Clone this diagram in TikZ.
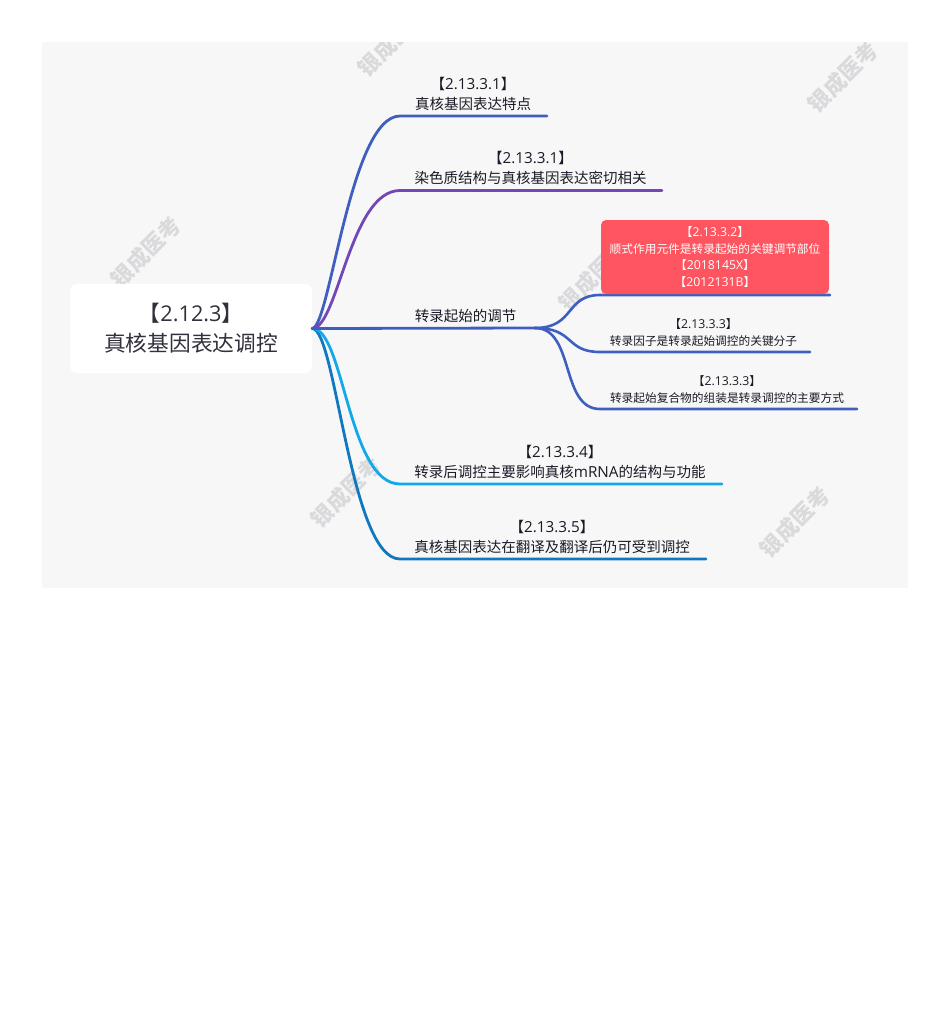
\documentclass[tikz,border=0pt]{standalone}
\usepackage{fontspec}
\setmainfont{Noto Sans CJK SC}
\newfontfamily\latf[Scale=1.05]{Open Sans}
\newfontfamily\latr{Open Sans}
\newcommand{\rtag}[1]{【{\latf #1}】}
\definecolor{panelc}{HTML}{F7F7F8}
\definecolor{blueb}{HTML}{3F5FBE}
\definecolor{purpleb}{HTML}{7248B9}
\definecolor{cyanb}{HTML}{13A9E8}
\definecolor{deepb}{HTML}{0F78BE}
\definecolor{redbox}{HTML}{FF5560}
\definecolor{inkc}{HTML}{1A1A26}
\definecolor{wm}{HTML}{DADADC}
\tikzset{
  x=1pt,y=-1pt,
  branch/.style={line width=2.8pt,line cap=round},
  sub/.style={line width=2.6pt,line cap=round},
  lab/.style={anchor=south,align=center,text=inkc,font=\fontsize{14.5}{20.5}\selectfont,inner sep=0pt},
  sublab/.style={anchor=south,align=center,text=inkc,font=\fontsize{11.7}{17}\selectfont,inner sep=0pt},
  wmark/.style={rotate=45,text=wm,font=\fontsize{22}{24}\selectfont\bfseries,inner sep=0pt}
}
\begin{document}
\begin{tikzpicture}
\useasboundingbox (0,0) rectangle (950,1018);
\fill[panelc] (42,42) rectangle (908,588);
\begin{scope}
\clip (42,42) rectangle (908,588);
\node[wmark] (w1) at (146,252) {银成医考};
\node[wmark] (w2) at (393,41) {银成医考};
\node[wmark] (w3) at (843,77) {银成医考};
\node[wmark] (w4) at (594,276) {银成医考};
\node[wmark] (w5) at (346,492) {银成医考};
\node[wmark] (w6) at (795,522) {银成医考};
\end{scope}
% root
\node[fill=white,rounded corners=7pt,minimum width=242pt,minimum height=89pt,inner sep=0pt,align=center,text=inkc!90,font=\fontsize{21.7}{30}\selectfont] (root) at (191,328.5) {【{\latr 2.12.3}】\\真核基因表达调控};
\coordinate (o) at (root.east);
% junctions
\coordinate (b1a) at (400,116); \coordinate (b1b) at (547,116);
\coordinate (b2a) at (400,190.5); \coordinate (b2b) at (662,190.5);
\coordinate (b3a) at (535,328);
\coordinate (b4a) at (400,484); \coordinate (b4b) at (722,484);
\coordinate (b5a) at (400,559); \coordinate (b5b) at (706,559);
\coordinate (s1a) at (600,295); \coordinate (s1b) at (830,295);
\coordinate (s2a) at (600,352); \coordinate (s2b) at (810,352);
\coordinate (s3a) at (600,409); \coordinate (s3b) at (857,409);
% branches
\draw[branch,deepb] (o) .. controls (336,328) and (350,559) .. (b5a) -- (b5b);
\draw[branch,cyanb] (o) .. controls (344,328) and (348,484) .. (b4a) -- (b4b);
\draw[branch,blueb] (o) .. controls (330,328) and (350,116) .. (b1a) -- (b1b);
\draw[branch,purpleb] (o) .. controls (338,328) and (350,190.5) .. (b2a) -- (b2b);
\draw[branch,blueb] (o) -- (b3a);
\draw[sub,blueb] (b3a) .. controls (575,328) and (565,295) .. (s1a) -- (s1b);
\draw[sub,blueb] (b3a) .. controls (575,328) and (565,352) .. (s2a) -- (s2b);
\draw[sub,blueb] (b3a) .. controls (575,328) and (560,409) .. (s3a) -- (s3b);
% labels
\node[lab] (l1) at (473,111) {\rtag{2.13.3.1}\\真核基因表达特点};
\node[lab] (l2) at (530.5,185) {\rtag{2.13.3.1}\\染色质结构与真核基因表达密切相关};
\node[lab] (l3) at (465.5,323) {转录起始的调节};
\node[lab] (l4) at (560,479) {\rtag{2.13.3.4}\\转录后调控主要影响真核{\latf mRNA}的结构与功能};
\node[lab] (l5) at (552,554) {\rtag{2.13.3.5}\\真核基因表达在翻译及翻译后仍可受到调控};
\node[fill=redbox,rounded corners=5pt,minimum width=228pt,minimum height=74pt,inner sep=0pt,align=center,text=white,font=\fontsize{11.7}{16.4}\selectfont] (red) at (715,257) {\rtag{2.13.3.2}\\顺式作用元件是转录起始的关键调节部位\\\rtag{2018145X}\\\rtag{2012131B}};
\node[sublab] (n2) at (703.5,346.5) {\rtag{2.13.3.3}\\转录因子是转录起始调控的关键分子};
\node[sublab] (n3) at (727,403.5) {\rtag{2.13.3.3}\\转录起始复合物的组装是转录调控的主要方式};
\end{tikzpicture}
\end{document}
